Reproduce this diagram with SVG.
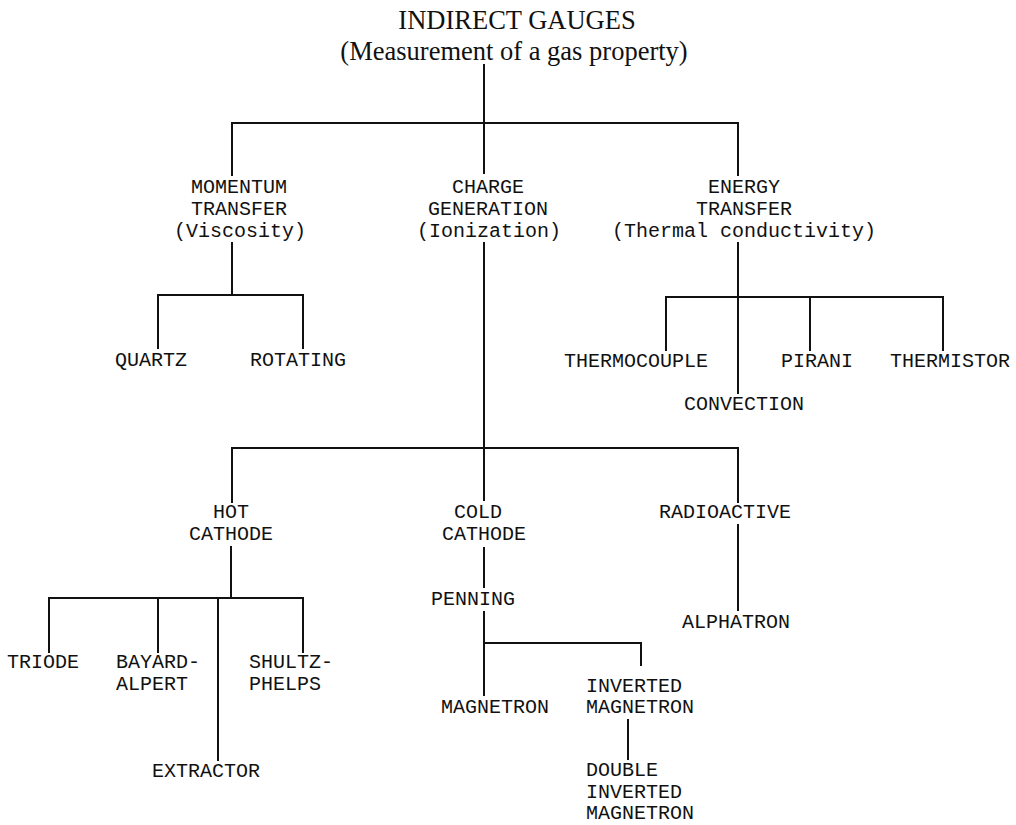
<svg xmlns="http://www.w3.org/2000/svg" width="1016" height="825" viewBox="0 0 1016 825">
<style>
.t{font-family:"Liberation Serif","Times New Roman",serif;font-size:26.5px;fill:#111;text-anchor:middle}
.m{font-family:"Liberation Mono","Courier New",monospace;font-size:20px;fill:#111}
.c{text-anchor:middle}
.ln{fill:none;stroke:#111;stroke-width:2;stroke-linecap:square}
</style>
<rect width="1016" height="825" fill="#fff"/>
<g id="connectors">
<path class="ln" d="M484 65V123M232 175V123H738V175M484 123V173"/>
<path class="ln" d="M232 243V295M158 348V295H303V348"/>
<path class="ln" d="M484 243V500M232 502V448H738V502"/>
<path class="ln" d="M738 243V297M666 350V297H943V350M738 297V393M810 297V350"/>
<path class="ln" d="M231 547V598M49 652V598H303V652M158 598V652M218 598V760"/>
<path class="ln" d="M484 548V587M484 612V695M484 643H641V665M628 720V759"/>
<path class="ln" d="M738 525V610"/>
</g>
<g id="root"><text class="t" x="517" y="29">INDIRECT GAUGES</text><text class="t" x="514" y="60">(Measurement of a gas property)</text></g>
<g id="momentum"><text class="m c" x="239" y="193">MOMENTUM</text><text class="m c" x="239" y="215">TRANSFER</text><text class="m c" x="240" y="237">(Viscosity)</text></g>
<g id="charge"><text class="m c" x="488" y="193">CHARGE</text><text class="m c" x="488" y="215">GENERATION</text><text class="m c" x="489" y="237">(Ionization)</text></g>
<g id="energy"><text class="m c" x="744" y="193">ENERGY</text><text class="m c" x="744" y="215">TRANSFER</text><text class="m c" x="744" y="237">(Thermal conductivity)</text></g>
<g id="quartz"><text class="m c" x="151" y="366">QUARTZ</text></g>
<g id="rotating"><text class="m c" x="298" y="366">ROTATING</text></g>
<g id="thermocouple"><text class="m c" x="636" y="367">THERMOCOUPLE</text></g>
<g id="pirani"><text class="m c" x="817" y="367">PIRANI</text></g>
<g id="thermistor"><text class="m c" x="950" y="367">THERMISTOR</text></g>
<g id="convection"><text class="m c" x="744" y="410">CONVECTION</text></g>
<g id="hot-cathode"><text class="m c" x="231" y="518">HOT</text><text class="m c" x="231" y="540">CATHODE</text></g>
<g id="cold-cathode"><text class="m" x="454" y="518">COLD</text><text class="m" x="442" y="540">CATHODE</text></g>
<g id="radioactive"><text class="m" x="659" y="518">RADIOACTIVE</text></g>
<g id="alphatron"><text class="m" x="682" y="628">ALPHATRON</text></g>
<g id="penning"><text class="m" x="431" y="605">PENNING</text></g>
<g id="magnetron"><text class="m" x="441" y="713">MAGNETRON</text></g>
<g id="inverted-magnetron"><text class="m" x="586" y="692">INVERTED</text><text class="m" x="586" y="713">MAGNETRON</text></g>
<g id="double-inverted-magnetron"><text class="m" x="586" y="776">DOUBLE</text><text class="m" x="586" y="798">INVERTED</text><text class="m" x="586" y="819">MAGNETRON</text></g>
<g id="triode"><text class="m" x="7" y="668">TRIODE</text></g>
<g id="bayard-alpert"><text class="m" x="116" y="668">BAYARD-</text><text class="m" x="116" y="690">ALPERT</text></g>
<g id="shultz-phelps"><text class="m" x="249" y="668">SHULTZ-</text><text class="m" x="249" y="690">PHELPS</text></g>
<g id="extractor"><text class="m" x="152" y="777">EXTRACTOR</text></g>
</svg>
